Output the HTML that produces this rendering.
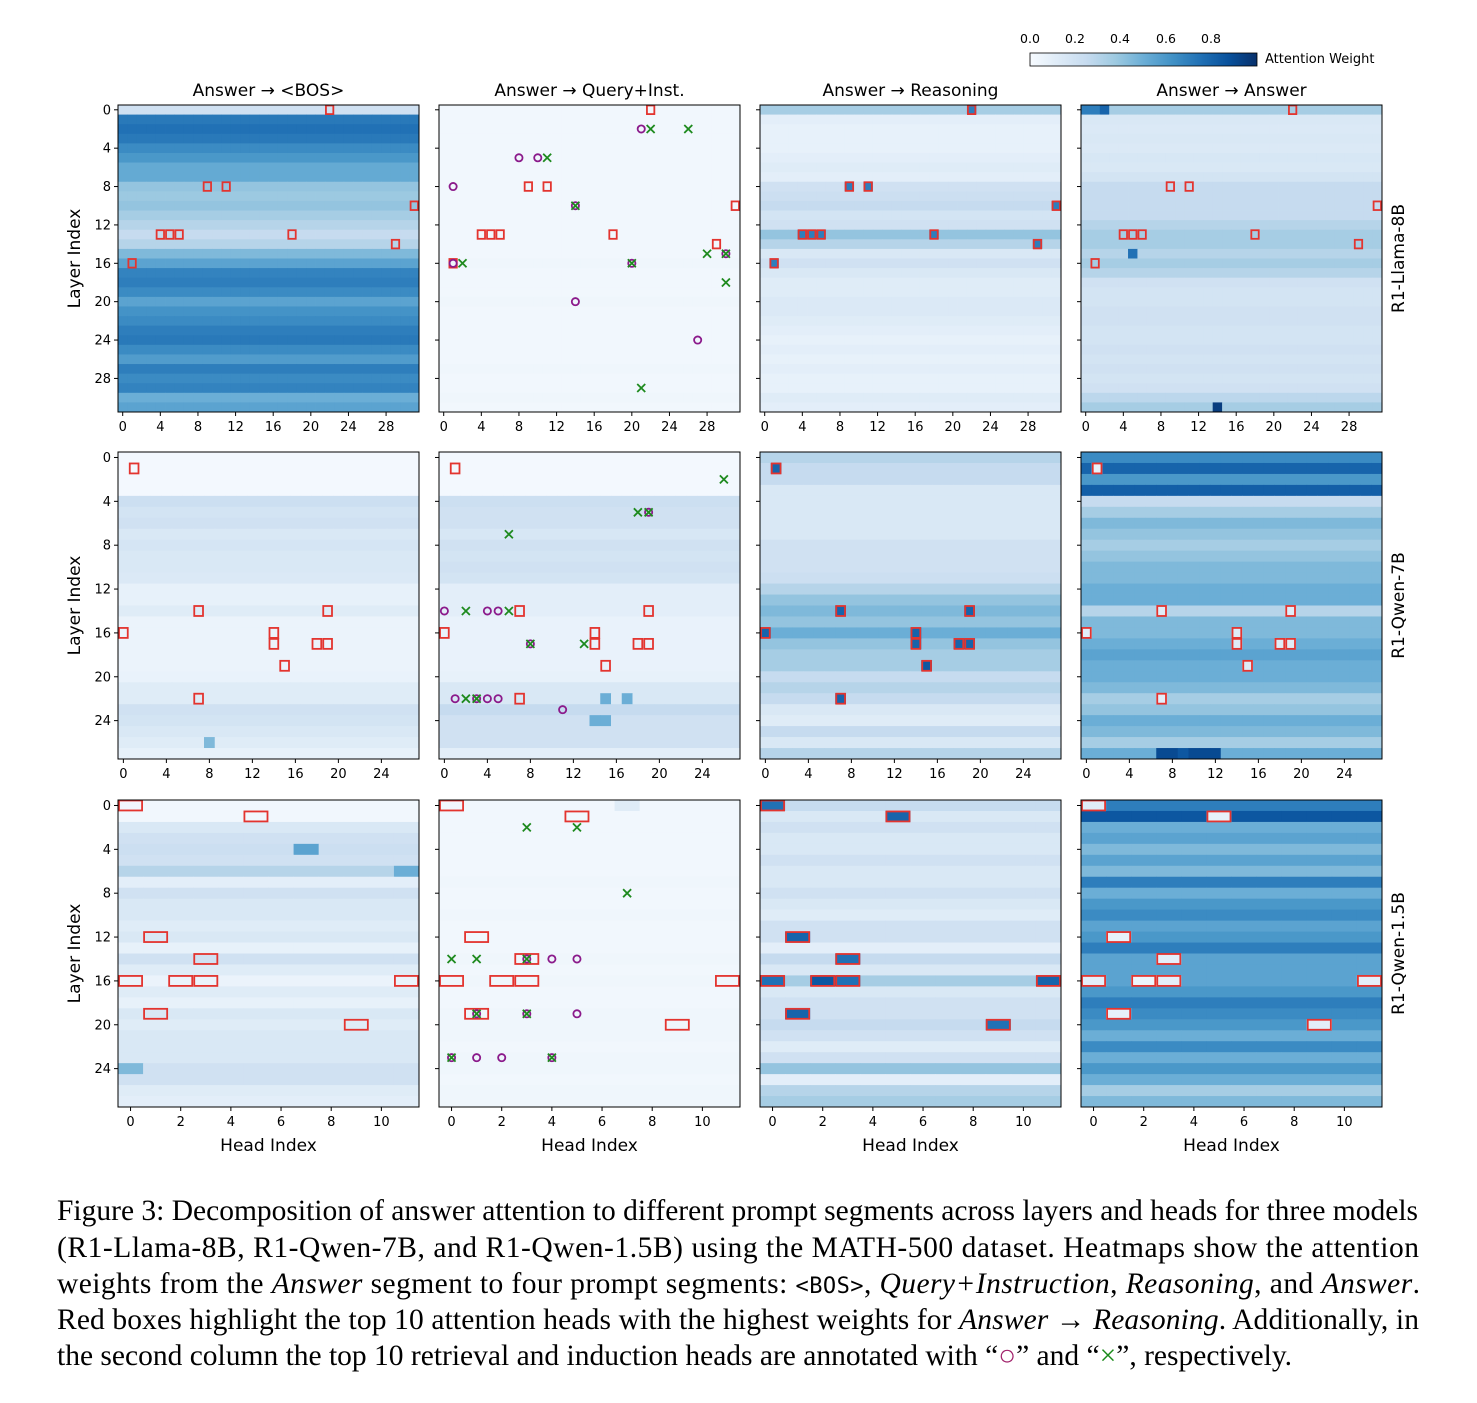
<!DOCTYPE html>
<html><head><meta charset="utf-8">
<style>
html,body{margin:0;padding:0;background:#fff;}
svg{display:block;}
text{font-family:"DejaVu Sans","Liberation Sans",sans-serif;}
.cap{font-family:"Liberation Serif",serif;font-size:29.5px;fill:#000;}
</style></head>
<body>
<svg id="fig" width="1477" height="1403" viewBox="0 0 1477 1403" xmlns="http://www.w3.org/2000/svg">
<defs>
<linearGradient id="blues" x1="0" x2="1" y1="0" y2="0">
<stop offset="0" stop-color="#f7fbff"/><stop offset="0.125" stop-color="#deebf7"/><stop offset="0.25" stop-color="#c6dbef"/><stop offset="0.375" stop-color="#9ecae1"/><stop offset="0.5" stop-color="#6baed6"/><stop offset="0.625" stop-color="#4292c6"/><stop offset="0.75" stop-color="#2171b5"/><stop offset="0.875" stop-color="#08519c"/><stop offset="1" stop-color="#08306b"/>
</linearGradient>
</defs>
<g>
<rect x="1030" y="53" width="227" height="13" fill="url(#blues)" stroke="#000" stroke-width="0.8"/>
<g font-size="12.5" text-anchor="middle">
<text x="1030" y="43">0.0</text><text x="1075" y="43">0.2</text><text x="1120" y="43">0.4</text><text x="1166" y="43">0.6</text><text x="1211" y="43">0.8</text>
</g>
<text x="1265" y="63" font-size="13">Attention Weight</text>
</g>
<g id="panels"></g>
<g>
<text class="cap" x="57" y="1220" textLength="1361" lengthAdjust="spacing">Figure 3: Decomposition of answer attention to different prompt segments across layers and heads for three models</text>
<text class="cap" x="57" y="1257" textLength="1362" lengthAdjust="spacing">(R1-Llama-8B, R1-Qwen-7B, and R1-Qwen-1.5B) using the MATH-500 dataset. Heatmaps show the attention</text>
<text class="cap" x="57" y="1293" textLength="1363" lengthAdjust="spacing">weights from the <tspan font-style="italic">Answer</tspan> segment to four prompt segments: <tspan font-family="DejaVu Sans Mono,monospace" font-size="22">&lt;BOS&gt;</tspan>, <tspan font-style="italic">Query+Instruction</tspan>, <tspan font-style="italic">Reasoning</tspan>, and <tspan font-style="italic">Answer</tspan>.</text>
<text class="cap" x="57" y="1329" textLength="1362" lengthAdjust="spacing">Red boxes highlight the top 10 attention heads with the highest weights for <tspan font-style="italic">Answer</tspan> → <tspan font-style="italic">Reasoning</tspan>. Additionally, in</text>
<text class="cap" x="57" y="1365">the second column the top 10 retrieval and induction heads are annotated with “<tspan fill="#a0206a">○</tspan>” and “<tspan fill="#1a8a1a">×</tspan>”, respectively.</text>
</g>
</svg>
<script>
// ---- data: per-layer mean attention (row estimates) ----
const llamaBos = [0.2,0.72,0.75,0.72,0.65,0.6,0.52,0.52,0.4,0.38,0.4,0.35,0.3,0.25,0.3,0.45,0.55,0.68,0.7,0.65,0.55,0.62,0.65,0.7,0.72,0.65,0.58,0.7,0.65,0.68,0.5,0.55];
const llamaQuery = [0.03,0.03,0.03,0.03,0.03,0.03,0.03,0.03,0.03,0.03,0.03,0.03,0.03,0.03,0.03,0.03,0.04,0.03,0.03,0.03,0.04,0.03,0.03,0.03,0.03,0.03,0.03,0.04,0.03,0.03,0.04,0.03];
const llamaReason = [0.35,0.1,0.08,0.08,0.08,0.1,0.12,0.1,0.2,0.22,0.25,0.18,0.2,0.4,0.3,0.15,0.2,0.15,0.12,0.12,0.14,0.14,0.12,0.1,0.08,0.1,0.08,0.1,0.08,0.08,0.12,0.1];
const llamaAnswer = [0.35,0.15,0.14,0.15,0.14,0.16,0.15,0.18,0.25,0.25,0.25,0.25,0.3,0.35,0.35,0.3,0.35,0.3,0.2,0.18,0.18,0.2,0.2,0.18,0.18,0.2,0.18,0.2,0.18,0.2,0.28,0.35];
const qwen7Bos = [0.02,0.02,0.02,0.02,0.22,0.18,0.2,0.15,0.17,0.15,0.15,0.14,0.08,0.08,0.12,0.06,0.06,0.06,0.06,0.06,0.07,0.12,0.12,0.2,0.18,0.15,0.12,0.08];
const qwen7Query = [0.02,0.02,0.02,0.02,0.22,0.2,0.2,0.16,0.2,0.18,0.2,0.18,0.1,0.1,0.1,0.07,0.07,0.07,0.07,0.07,0.08,0.15,0.15,0.25,0.2,0.2,0.2,0.1];
const qwen7Reason = [0.3,0.25,0.25,0.15,0.15,0.15,0.15,0.15,0.2,0.2,0.2,0.22,0.3,0.4,0.45,0.4,0.5,0.4,0.35,0.35,0.25,0.3,0.25,0.15,0.12,0.25,0.15,0.3];
const qwen7Answer = [0.65,0.8,0.6,0.82,0.25,0.35,0.45,0.4,0.35,0.4,0.45,0.45,0.5,0.5,0.3,0.45,0.45,0.5,0.55,0.5,0.5,0.45,0.35,0.4,0.5,0.45,0.35,0.5];
const qwen15Bos = [0.03,0.03,0.15,0.2,0.22,0.2,0.3,0.1,0.2,0.15,0.15,0.12,0.15,0.08,0.2,0.12,0.06,0.12,0.08,0.15,0.12,0.15,0.15,0.15,0.2,0.2,0.12,0.1];
const qwen15Query = [0.03,0.03,0.03,0.03,0.03,0.03,0.03,0.04,0.03,0.03,0.04,0.03,0.03,0.03,0.04,0.03,0.04,0.03,0.03,0.04,0.04,0.04,0.03,0.04,0.04,0.03,0.04,0.04];
const qwen15Reason = [0.25,0.15,0.2,0.15,0.15,0.2,0.15,0.15,0.2,0.15,0.12,0.2,0.2,0.1,0.25,0.15,0.35,0.15,0.2,0.2,0.25,0.2,0.12,0.2,0.4,0.1,0.3,0.35];
const qwen15Answer = [0.7,0.85,0.5,0.55,0.45,0.55,0.45,0.7,0.5,0.6,0.65,0.55,0.6,0.7,0.55,0.55,0.55,0.6,0.7,0.65,0.6,0.5,0.65,0.5,0.6,0.5,0.35,0.45];
// notable individual cells [head, layer, value]
const llamaBosPeaks = [];
const llamaQueryPeaks = [];
const llamaReasonPeaks = [[22,0,0.7],[9,8,0.7],[11,8,0.7],[31,10,0.7],[4,13,0.7],[5,13,0.7],[6,13,0.7],[18,13,0.7],[29,14,0.7],[1,16,0.7]];
const llamaAnswerPeaks = [[14,31,0.95],[5,15,0.75],[0,0,0.7],[1,0,0.7],[2,0,0.8]];
const qwen7BosPeaks = [[8,26,0.45]];
const qwen7QueryPeaks = [[15,22,0.5],[17,22,0.5],[14,24,0.5],[15,24,0.5]];
const qwen7ReasonPeaks = [[1,1,0.8],[7,14,0.8],[19,14,0.8],[0,16,0.8],[14,16,0.8],[14,17,0.8],[18,17,0.8],[19,17,0.8],[15,19,0.85],[7,22,0.8]];
const qwen7AnswerPeaks = [[1,1,0.08],[7,14,0.12],[19,14,0.12],[0,16,0.1],[14,16,0.12],[14,17,0.12],[18,17,0.12],[19,17,0.12],[15,19,0.12],[7,22,0.1],[7,27,0.9],[8,27,0.9],[9,27,0.85],[10,27,0.9],[11,27,0.9],[12,27,0.9]];
const qwen15BosPeaks = [[7,4,0.55],[11,6,0.5],[0,24,0.45]];
const qwen15QueryPeaks = [[7,0,0.12]];
const qwen15ReasonPeaks = [[0,0,0.75],[5,1,0.8],[1,12,0.8],[3,14,0.75],[0,16,0.75],[2,16,0.85],[3,16,0.75],[11,16,0.8],[1,19,0.8],[9,20,0.75]];
const qwen15AnswerPeaks = [[0,0,0.12],[5,1,0.08],[1,12,0.08],[3,14,0.1],[0,16,0.1],[2,16,0.05],[3,16,0.1],[11,16,0.1],[1,19,0.08],[9,20,0.1]];
// top-10 Answer->Reasoning heads [head, layer]
const llamaBoxes = [[22,0],[9,8],[11,8],[31,10],[4,13],[5,13],[6,13],[18,13],[29,14],[1,16]];
const qwen7Boxes = [[1,1],[7,14],[19,14],[0,16],[14,16],[14,17],[18,17],[19,17],[15,19],[7,22]];
const qwen15Boxes = [[0,0],[5,1],[1,12],[3,14],[0,16],[2,16],[3,16],[11,16],[1,19],[9,20]];
// retrieval (circle) and induction (cross) heads [head, layer]
const llamaRetrieval = [[21,2],[8,5],[10,5],[1,8],[14,10],[1,16],[20,16],[30,15],[14,20],[27,24]];
const llamaInduction = [[22,2],[26,2],[11,5],[14,10],[2,16],[20,16],[28,15],[30,15],[30,18],[21,29]];
const qwen7Retrieval = [[19,5],[0,14],[4,14],[5,14],[8,17],[1,22],[3,22],[4,22],[5,22],[11,23]];
const qwen7Induction = [[26,2],[18,5],[19,5],[6,7],[2,14],[6,14],[8,17],[13,17],[2,22],[3,22]];
const qwen15Retrieval = [[3,14],[4,14],[5,14],[1,19],[3,19],[5,19],[0,23],[1,23],[2,23],[4,23]];
const qwen15Induction = [[3,2],[5,2],[7,8],[0,14],[1,14],[3,14],[1,19],[3,19],[0,23],[4,23]];
const colTitles = ["Answer → <BOS>","Answer → Query+Inst.","Answer → Reasoning","Answer → Answer"];
const rowTitles = ["R1-Llama-8B","R1-Qwen-7B","R1-Qwen-1.5B"];
const nLayers = [32,28,28];
const nHeads = [32,28,12];
const xTickStep = [4,4,2];
const yTickStep = 4;

const rowsData = [[llamaBos,llamaQuery,llamaReason,llamaAnswer],[qwen7Bos,qwen7Query,qwen7Reason,qwen7Answer],[qwen15Bos,qwen15Query,qwen15Reason,qwen15Answer]];
const peaksData = [[llamaBosPeaks,llamaQueryPeaks,llamaReasonPeaks,llamaAnswerPeaks],[qwen7BosPeaks,qwen7QueryPeaks,qwen7ReasonPeaks,qwen7AnswerPeaks],[qwen15BosPeaks,qwen15QueryPeaks,qwen15ReasonPeaks,qwen15AnswerPeaks]];
const boxesData = [llamaBoxes,qwen7Boxes,qwen15Boxes];
const retData = [llamaRetrieval,qwen7Retrieval,qwen15Retrieval];
const indData = [llamaInduction,qwen7Induction,qwen15Induction];

// ---- layout ----
const PX=[118,439,760,1081], PY=[105,452,800], W=301, H=307;
const NS="http://www.w3.org/2000/svg";
const stops=[[247,251,255],[222,235,247],[198,219,239],[158,202,225],[107,174,214],[66,146,198],[33,113,181],[8,81,156],[8,48,107]];
function blues(v){v=Math.max(0,Math.min(1,v));const t=v*8;const i=Math.min(7,Math.floor(t));const f=t-i;const a=stops[i],b=stops[i+1];return `rgb(${Math.round(a[0]+(b[0]-a[0])*f)},${Math.round(a[1]+(b[1]-a[1])*f)},${Math.round(a[2]+(b[2]-a[2])*f)})`;}
function mk(tag,attrs,parent){const e=document.createElementNS(NS,tag);for(const k in attrs)e.setAttribute(k,attrs[k]);parent.appendChild(e);return e;}
const root=document.getElementById('panels');
for(let r=0;r<3;r++){
  const nl=nLayers[r], nh=nHeads[r], cw=W/nh, ch=H/nl;
  for(let c=0;c<4;c++){
    const x0=PX[c], y0=PY[r];
    const xs=h=>x0+h*cw, ys=l=>y0+l*ch;
    const g=mk('g',{},root);
    
    
    const rows=rowsData[r][c];
    const grid={};
    peaksData[r][c].forEach(p=>grid[p[0]+','+p[1]]=p[2]);
    for(let l=0;l<nl;l++){
      for(let h=0;h<nh;h++){
        const k=h+','+l;
        const v=(k in grid)?grid[k]:rows[l];
        const cell=mk('rect',{x:xs(h).toFixed(2),y:ys(l).toFixed(2),width:(cw+0.4).toFixed(2),height:(ch+0.4).toFixed(2),fill:blues(v)},g);
        
        
      }
    }
    boxesData[r].forEach(b=>{
      const bx=mk('rect',{x:xs(b[0])+1,y:ys(b[1])+0.5,width:cw-2,height:ch-1,fill:'none',stroke:'#e3342f','stroke-width':1.8},g);
      
      
    });
    if(c===1){
      retData[r].forEach(p=>{
        const ci=mk('circle',{cx:xs(p[0]+0.5),cy:ys(p[1]+0.5),r:3.6,fill:'none',stroke:'#8b1a8b','stroke-width':1.8},g);
        
        
      });
      indData[r].forEach(p=>{
        const cx=xs(p[0]+0.5), cy=ys(p[1]+0.5), s=4;
        const cr=mk('path',{d:`M${cx-s},${cy-s}L${cx+s},${cy+s}M${cx-s},${cy+s}L${cx+s},${cy-s}`,stroke:'#1e8a1e','stroke-width':1.8,fill:'none'},g);
        
        
      });
    }
    const fr=mk('rect',{x:x0,y:y0,width:W,height:H,fill:'none',stroke:'#000','stroke-width':1},g);
    
    
    for(let l=0;l<nl;l+=yTickStep){
      const yy=ys(l+0.5);
      mk('line',{x1:x0-4,x2:x0,y1:yy,y2:yy,stroke:'#000','stroke-width':1},g);
      if(c===0){
        const t=mk('text',{x:x0-7,y:yy+4.5,'font-size':13,'text-anchor':'end'},g);
        t.textContent=l;
        
        
      }
    }
    for(let h=0;h<nh;h+=xTickStep[r]){
      const xx=xs(h+0.5);
      mk('line',{x1:xx,x2:xx,y1:y0+H,y2:y0+H+4,stroke:'#000','stroke-width':1},g);
      const t=mk('text',{x:xx,y:y0+H+19,'font-size':13,'text-anchor':'middle'},g);
      t.textContent=h;
      
      
    }
    if(r===0){
      const t=mk('text',{x:x0+W/2,y:y0-9,'font-size':17,'text-anchor':'middle'},g);
      t.textContent=colTitles[c];
      
      
    }
    if(r===2){
      const t=mk('text',{x:x0+W/2,y:y0+H+44,'font-size':17,'text-anchor':'middle'},g);
      t.textContent='Head Index';
      
      
    }
    if(c===0){
      const cy=y0+H/2;
      const t=mk('text',{x:80,y:cy,'font-size':17,'text-anchor':'middle',transform:`rotate(-90 80 ${cy})`},g);
      t.textContent='Layer Index';
      
      
    }
    if(c===3){
      const cy=y0+H/2;
      const t=mk('text',{x:1404,y:cy,'font-size':17,'text-anchor':'middle',transform:`rotate(-90 1404 ${cy})`},g);
      t.textContent=rowTitles[r];
      
      
    }
  }
}
</script>
</body></html>
